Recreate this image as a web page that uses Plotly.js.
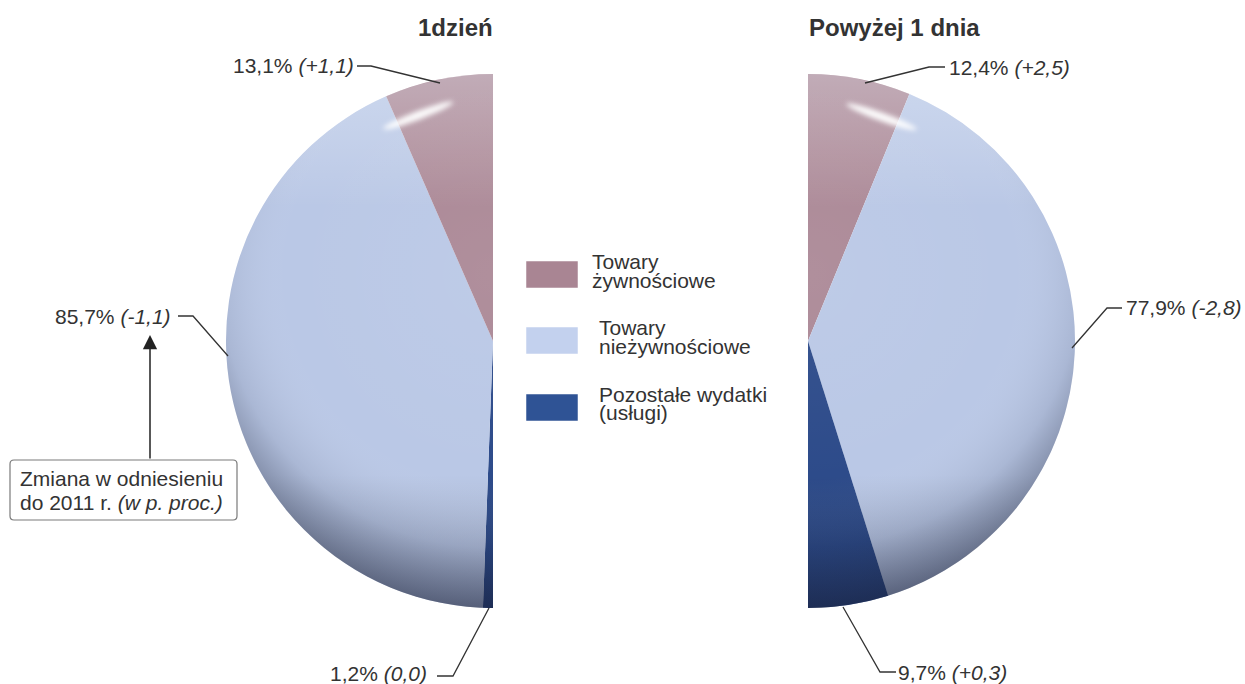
<!DOCTYPE html>
<html>
<head>
<meta charset="utf-8">
<script src="https://cdn.plot.ly/plotly-3.0.1.min.js"></script>
<style>html,body{margin:0;padding:0;background:#fff;}#chart{width:1245px;height:684px;}</style>
</head>
<body>
<div id="chart"></div>
<script>
// ---- data ----
const categories = ["Towary żywnościowe", "Towary nieżywnościowe", "Pozostałe wydatki (usługi)"];
const legendLines = [["Towary", "żywnościowe"], ["Towary", "nieżywnościowe"], ["Pozostałe wydatki", "(usługi)"]];
const panelTitles = ["1dzień", "Powyżej 1 dnia"];
const shareOneDay = [13.1, 85.7, 1.2];
const shareLonger = [12.4, 77.9, 9.7];
const changeOneDay = [1.1, -1.1, 0.0];
const changeLonger = [2.5, -2.8, 0.3];
const noteLines = ["Zmiana w odniesieniu", "do 2011 r. <i>(w p. proc.)</i>"];

// ---- styling ----
const colors = ["#ab8896", "#bac8e6", "#2d4b8a"];
const legendColors = ["#a98593", "#c3d1ee", "#2f5395"];
const W = 1245, H = 684;
const FONT = "Liberation Sans, Arial, sans-serif";
const TXT = "#333333";
const X = px => px / W;
const Y = py => 1 - py / H;

function fmt(v) { return v.toFixed(1).replace(".", ","); }
function fmtChange(v) {
  const s = fmt(Math.abs(v));
  if (v > 0) return "+" + s;
  if (v < 0) return "-" + s;
  return s;
}
function labelText(share, change) { return fmt(share) + "% <i>(" + fmtChange(change) + ")</i>"; }

function dom(cx, cy, r) {
  return { x: [X(cx - r), X(cx + r)], y: [Y(cy + r), Y(cy - r)] };
}
const R = 267;
const leftC = [493, 341], rightC = [808, 341];

// half pie: a hidden slice equal to the visible total fills the other half
function halfPie(values, domain, mirrored) {
  const total = values.reduce((a, b) => a + b, 0);
  let vals = values.concat([total]);
  let labs = categories.concat(["hidden"]);
  let cols = colors.concat(["rgba(0,0,0,0)"]);
  if (mirrored) { vals = vals.slice().reverse(); labs = labs.slice().reverse(); cols = cols.slice().reverse(); }
  return {
    type: "pie",
    values: vals,
    labels: labs,
    sort: false,
    direction: "clockwise",
    rotation: 0,
    textinfo: "none",
    hoverinfo: "none",
    showlegend: false,
    marker: { colors: cols, line: { width: 0 } },
    domain: domain
  };
}

const traces = [
  halfPie(shareOneDay, dom(leftC[0], leftC[1], R), true),
  halfPie(shareLonger, dom(rightC[0], rightC[1], R), false)
];

// ---- shading overlays (3D look) ----
function shadeSVG(side) {
  const path = side === "left" ? "M100,0 A100,100 0 0 0 100,200 Z" : "M0,0 A100,100 0 0 1 0,200 Z";
  const cx = side === "left" ? 100 : 0;
  const hl = side === "left"
    ? '<ellipse cx="72" cy="15.5" rx="14" ry="1.6" transform="rotate(-21 72 15.5)" fill="#fff" fill-opacity="0.95" filter="url(#b)"/>'
    : '<ellipse cx="27.5" cy="16" rx="14" ry="1.6" transform="rotate(20 27.5 16)" fill="#fff" fill-opacity="0.95" filter="url(#b)"/>';
  const svg = '<svg xmlns="http://www.w3.org/2000/svg" viewBox="0 0 100 200" width="100" height="200" preserveAspectRatio="none">' +
    '<defs>' +
    '<radialGradient id="r" gradientUnits="userSpaceOnUse" cx="' + cx + '" cy="75" r="128">' +
    '<stop offset="0" stop-color="#ffffff" stop-opacity="0.06"/>' +
    '<stop offset="0.6" stop-color="#ffffff" stop-opacity="0"/>' +
    '<stop offset="0.8" stop-color="#1a2035" stop-opacity="0.10"/>' +
    '<stop offset="1" stop-color="#141a30" stop-opacity="0.55"/>' +
    '</radialGradient>' +
    '<linearGradient id="v" x1="0" y1="0" x2="0" y2="1">' +
    '<stop offset="0" stop-color="#f0f8ff" stop-opacity="0.32"/>' +
    '<stop offset="0.25" stop-color="#ffffff" stop-opacity="0"/>' +
    '<stop offset="0.75" stop-color="#000000" stop-opacity="0"/>' +
    '<stop offset="1" stop-color="#0a1030" stop-opacity="0.2"/>' +
    '</linearGradient>' +
    '<filter id="b" x="-50%" y="-200%" width="200%" height="500%"><feGaussianBlur stdDeviation="0.9"/></filter>' +
    '</defs>' +
    '<path d="' + path + '" fill="url(#v)"/>' +
    '<path d="' + path + '" fill="url(#r)"/>' + hl +
    '</svg>';
  return "data:image/svg+xml;charset=utf-8," + encodeURIComponent(svg);
}

const images = [
  { source: shadeSVG("left"), xref: "paper", yref: "paper", x: X(leftC[0] - R), y: Y(leftC[1] - R),
    sizex: R / W, sizey: 2 * R / H, xanchor: "left", yanchor: "top", sizing: "stretch", layer: "above" },
  { source: shadeSVG("right"), xref: "paper", yref: "paper", x: X(rightC[0]), y: Y(rightC[1] - R),
    sizex: R / W, sizey: 2 * R / H, xanchor: "left", yanchor: "top", sizing: "stretch", layer: "above" }
];

// ---- annotations & shapes ----
const annotations = [];
const shapes = [];
function txt(text, x, y, xanchor, size, extra) {
  annotations.push(Object.assign({
    text: text, x: X(x), y: Y(y), xref: "paper", yref: "paper", xanchor: xanchor, yanchor: "middle",
    showarrow: false, font: { family: FONT, size: size, color: TXT }
  }, extra || {}));
}
function poly(pts) {
  const d = pts.map((p, i) => (i ? "L" : "M") + X(p[0]) + "," + Y(p[1])).join(" ");
  shapes.push({ type: "path", xref: "paper", yref: "paper", path: d, line: { color: "#333333", width: 1.3 } });
}

// titles
txt("<b>" + panelTitles[0] + "</b>", 495, 27, "right", 24);
txt("<b>" + panelTitles[1] + "</b>", 807, 27, "left", 24);

// left labels
txt(labelText(shareOneDay[0], changeOneDay[0]), 356, 66, "right", 21);
poly([[357, 66], [371, 66], [440, 83]]);
txt(labelText(shareOneDay[1], changeOneDay[1]), 173, 316, "right", 21);
poly([[178, 316], [193, 316], [228, 356]]);
txt(labelText(shareOneDay[2], changeOneDay[2]), 429, 673, "right", 21);
poly([[437, 676], [453, 676], [489, 608]]);

// right labels
txt(labelText(shareLonger[0], changeLonger[0]), 947, 67, "left", 21);
poly([[865, 83], [929, 67], [945, 67]]);
txt(labelText(shareLonger[1], changeLonger[1]), 1124, 307, "left", 21);
poly([[1072, 348], [1107, 308], [1122, 308]]);
txt(labelText(shareLonger[2], changeLonger[2]), 896, 672, "left", 21);
poly([[843, 607], [880, 672], [896, 672]]);

// legend
const legTop = [261, 327, 394];
const legTextX = [590, 597, 597];
legendLines.forEach((lines, i) => {
  shapes.push({ type: "rect", xref: "paper", yref: "paper", x0: X(526), x1: X(578), y0: Y(legTop[i]), y1: Y(legTop[i] + 27),
    fillcolor: legendColors[i], line: { color: "rgba(255,255,255,0.5)", width: 1 } });
  txt(lines[0], legTextX[i], legTop[i] + 0, "left", 21);
  txt(lines[1], legTextX[i], legTop[i] + 19, "left", 21);
});

// note box + arrow
const bx0 = 10, bx1 = 237, by0 = 460, by1 = 520, rr = 4;
shapes.push({ type: "path", xref: "paper", yref: "paper",
  path: "M" + X(bx0 + rr) + "," + Y(by0) + " L" + X(bx1 - rr) + "," + Y(by0) +
        " Q" + X(bx1) + "," + Y(by0) + " " + X(bx1) + "," + Y(by0 + rr) +
        " L" + X(bx1) + "," + Y(by1 - rr) + " Q" + X(bx1) + "," + Y(by1) + " " + X(bx1 - rr) + "," + Y(by1) +
        " L" + X(bx0 + rr) + "," + Y(by1) + " Q" + X(bx0) + "," + Y(by1) + " " + X(bx0) + "," + Y(by1 - rr) +
        " L" + X(bx0) + "," + Y(by0 + rr) + " Q" + X(bx0) + "," + Y(by0) + " " + X(bx0 + rr) + "," + Y(by0) + " Z",
  line: { color: "#7a7a7a", width: 1.2 }, fillcolor: "#ffffff" });
txt(noteLines[0], 18, 478, "left", 21);
txt(noteLines[1], 18, 502, "left", 21);
annotations.push({ text: "", xref: "paper", yref: "paper", x: X(150), y: Y(335), ax: 0, ay: 125,
  showarrow: true, arrowhead: 2, arrowsize: 1.9, arrowwidth: 1.5, arrowcolor: "#222222" });

const layout = {
  width: W, height: H,
  margin: { l: 0, r: 0, t: 0, b: 0 },
  paper_bgcolor: "#ffffff", plot_bgcolor: "#ffffff",
  showlegend: false,
  annotations: annotations, shapes: shapes, images: images,
  font: { family: FONT, color: TXT }
};
Plotly.newPlot("chart", traces, layout, { displayModeBar: false, staticPlot: true });
</script>
</body>
</html>
